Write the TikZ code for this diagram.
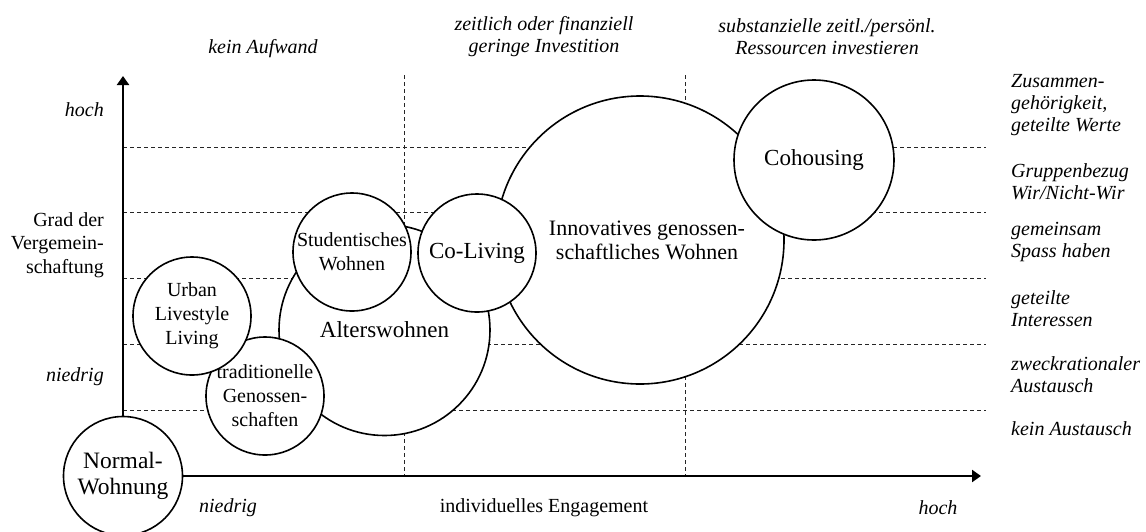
\documentclass[tikz,border=0pt]{standalone}
\usepackage{fontspec}
\setmainfont{Liberation Serif}
\usetikzlibrary{arrows.meta}
\begin{document}
\begin{tikzpicture}[x=1pt,y=-1pt,
  gridline/.style={line width=0.8pt, dash pattern=on 4pt off 3pt, black!85},
  axis/.style={line width=2.2pt, -{Triangle[length=9pt,width=12pt]}},
  bubble/.style={circle, draw, fill=white, line width=1.6pt, inner sep=0pt,
    align=center, minimum size=#1, font=\fontsize{20}{24}\selectfont},
  lab/.style={inner sep=0pt, font=\fontsize{20}{22}\selectfont\itshape},
  labup/.style={inner sep=0pt, font=\fontsize{20}{23.5}\selectfont},
]
\useasboundingbox (0,0) rectangle (1146,531);
\clip (0,0) rectangle (1146,531);

% horizontal grid lines (levels of community)
\foreach \y [count=\i] in {147,212,278,344,410} {
  \coordinate (hl\i) at (123,\y);
  \coordinate (hr\i) at (986,\y);
  \draw[gridline] (hl\i) -- (hr\i);
}
% vertical grid lines (levels of engagement)
\foreach \x [count=\i] in {404,685} {
  \coordinate (vt\i) at (\x,75);
  \coordinate (vb\i) at (\x,476);
  \draw[gridline] (vt\i) -- (vb\i);
}

% housing forms
\node[bubble=288pt, font=\fontsize{22}{24}\selectfont] (inno) at (640,240)
  {\hspace*{14pt}Innovatives genossen-\\\hspace*{14pt}schaftliches Wohnen};
\node[bubble=160pt, font=\fontsize{23}{26}\selectfont] (coh) at (814,160) {Cohousing};
\node[bubble=211pt, font=\fontsize{23}{26}\selectfont] (alt) at (384.5,330) {Alterswohnen};
\node[bubble=118pt, font=\fontsize{23}{26}\selectfont] (coliv) at (477,253) {Co-Living};
\node[bubble=118pt] (stud) at (352,252) {Studentisches\\Wohnen};
\node[bubble=118pt] (trad) at (265,396) {traditionelle\\Genossen-\\schaften};
\node[bubble=118pt] (urban) at (192,316) {Urban\\Livestyle\\Living};
\node[bubble=119pt, font=\fontsize{23.5}{26}\selectfont] (normal) at (123,476) {Normal-\\Wohnung};

% axes
\coordinate (ytip) at (123,76);
\coordinate (xtip) at (981,476);
\draw[axis] (normal) -- (ytip);
\draw[axis] (normal) -- (xtip);

% top labels
\node[lab] (t1) at (263,49) {kein Aufwand};
\node[lab, align=center] (t2) at (544,37) {zeitlich oder finanziell\\geringe Investition};
\node[lab, align=center] (t3) at (827,37) {substanzielle zeitl./persönl.\\Ressourcen investieren};

% left labels
\node[lab, anchor=east] (l1) at (104,110) {hoch};
\node[labup, anchor=east, align=right] (l2) at (104,245) {Grad der\\Vergemein-\\schaftung};
\node[lab, anchor=east] (l3) at (104,377) {niedrig};

% bottom labels
\node[lab] (b1) at (228,508) {niedrig};
\node[labup] (b2) at (544,508) {individuelles Engagement};
\node[lab] (b3) at (938,508) {hoch};

% right labels
\node[lab, anchor=west, align=left] (r1) at (1011,105) {Zusammen-\\gehörigkeit,\\geteilte Werte};
\node[lab, anchor=west, align=left] (r2) at (1011,182) {Gruppenbezug\\Wir/Nicht-Wir};
\node[lab, anchor=west, align=left] (r3) at (1011,242) {gemeinsam\\Spass haben};
\node[lab, anchor=west, align=left] (r4) at (1011,309) {geteilte\\Interessen};
\node[lab, anchor=west, align=left] (r5) at (1011,375) {zweckrationaler\\Austausch};
\node[lab, anchor=west] (r6) at (1011,429) {kein Austausch};
\end{tikzpicture}
\end{document}
